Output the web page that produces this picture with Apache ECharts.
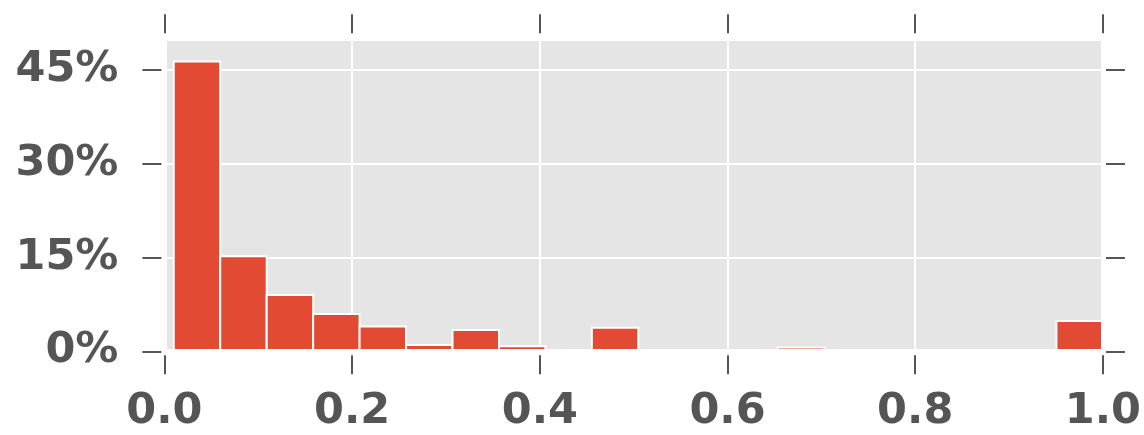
<!DOCTYPE html>
<html>
<head>
<meta charset="utf-8">
<script src="https://cdn.jsdelivr.net/npm/echarts@6/dist/echarts.min.js"></script>
<style>
html,body{margin:0;padding:0;background:#fff;}
#chart{width:1144px;height:435px;}
</style>
</head>
<body>
<div id="chart"></div>
<script>
// Histogram bins (x in [0,1]) and bar heights in percent
const binStart = [0.01, 0.0595, 0.109, 0.1585, 0.208, 0.2575, 0.307, 0.3565, 0.406, 0.4555, 0.505, 0.5545, 0.604, 0.6535, 0.703, 0.7525, 0.802, 0.8515, 0.901, 0.9505];
const binEnd   = [0.0595, 0.109, 0.1585, 0.208, 0.2575, 0.307, 0.3565, 0.406, 0.4555, 0.505, 0.5545, 0.604, 0.6535, 0.703, 0.7525, 0.802, 0.8515, 0.901, 0.9505, 1.0];
const percent  = [46.3, 15.2, 9.0, 5.95, 3.95, 1.0, 3.4, 0.8, 0.1, 3.75, 0, 0.15, 0, 0.6, 0, 0, 0, 0, 0, 4.85];
const xTicks = [0, 0.2, 0.4, 0.6, 0.8, 1.0];
const yTicks = [0, 15, 30, 45];

const data = binStart.map((s, i) => [s, binEnd[i], percent[i]]);

const FONT = 'DejaVu Sans';
const TXT = '#555555';
const tickStyle = {color: TXT, width: 2};
const X_MIN = 0, X_MAX = 1, Y_MIN = 0, Y_MAX = 50;

function xAx(extra) {
  return Object.assign({
    type: 'value', min: X_MIN, max: X_MAX, interval: 0.2,
    axisLine: {show: false, onZero: false}, axisTick: {show: false}, axisLabel: {show: false}, splitLine: {show: false}
  }, extra);
}
function yAx(extra) {
  return Object.assign({
    type: 'value', min: Y_MIN, max: Y_MAX, interval: 15,
    axisLine: {show: false, onZero: false}, axisTick: {show: false}, axisLabel: {show: false}, splitLine: {show: false}
  }, extra);
}
const frameLine = {show: true, onZero: false, lineStyle: {color: '#ffffff', width: 5}};

const chart = echarts.init(document.getElementById('chart'), null, {renderer: 'canvas'});
chart.setOption({
  animation: false,
  backgroundColor: '#ffffff',
  grid: {
    left: 164.4, right: 38.5, top: 38.3, bottom: 83.7,
    show: true, backgroundColor: '#E5E5E5', borderWidth: 0
  },
  xAxis: [
    xAx({position: 'bottom', z: 1, splitLine: {show: true, lineStyle: {color: '#ffffff', width: 2}}}),
    xAx({position: 'bottom', offset: 4,
      axisTick: {show: true, length: 19, lineStyle: tickStyle, customValues: xTicks},
      axisLabel: {show: true, margin: 35, color: TXT, fontFamily: FONT, fontWeight: 'bold', fontSize: 43,
        customValues: xTicks, formatter: v => v.toFixed(1)}}),
    xAx({position: 'top', offset: 5,
      axisTick: {show: true, length: 19, lineStyle: tickStyle, customValues: xTicks}}),
    xAx({position: 'bottom', z: 10, axisLine: frameLine}),
    xAx({position: 'top', z: 10, axisLine: frameLine})
  ],
  yAxis: [
    yAx({position: 'left', z: 1, splitLine: {show: true, lineStyle: {color: '#ffffff', width: 2}}}),
    yAx({position: 'left', offset: 3,
      axisTick: {show: true, length: 19, lineStyle: tickStyle, customValues: yTicks},
      axisLabel: {show: true, margin: 43, color: TXT, fontFamily: FONT, fontWeight: 'bold', fontSize: 43,
        customValues: yTicks, formatter: v => v + '%'}}),
    yAx({position: 'right', offset: 3,
      axisTick: {show: true, length: 19, lineStyle: tickStyle, customValues: yTicks}}),
    yAx({position: 'left', z: 10, axisLine: frameLine}),
    yAx({position: 'right', z: 10, axisLine: frameLine})
  ],
  series: [{
    type: 'custom',
    xAxisIndex: 0, yAxisIndex: 0,
    z: 2,
    clip: true,
    encode: {x: [0, 1], y: 2},
    data: data,
    renderItem: function (params, api) {
      const p0 = api.coord([api.value(0), api.value(2)]);
      const p1 = api.coord([api.value(1), 0]);
      return {
        type: 'rect',
        shape: {x: p0[0], y: p0[1], width: p1[0] - p0[0], height: p1[1] - p0[1]},
        style: {fill: '#E24A33', stroke: '#ffffff', lineWidth: 2}
      };
    }
  }]
});
</script>
</body>
</html>
